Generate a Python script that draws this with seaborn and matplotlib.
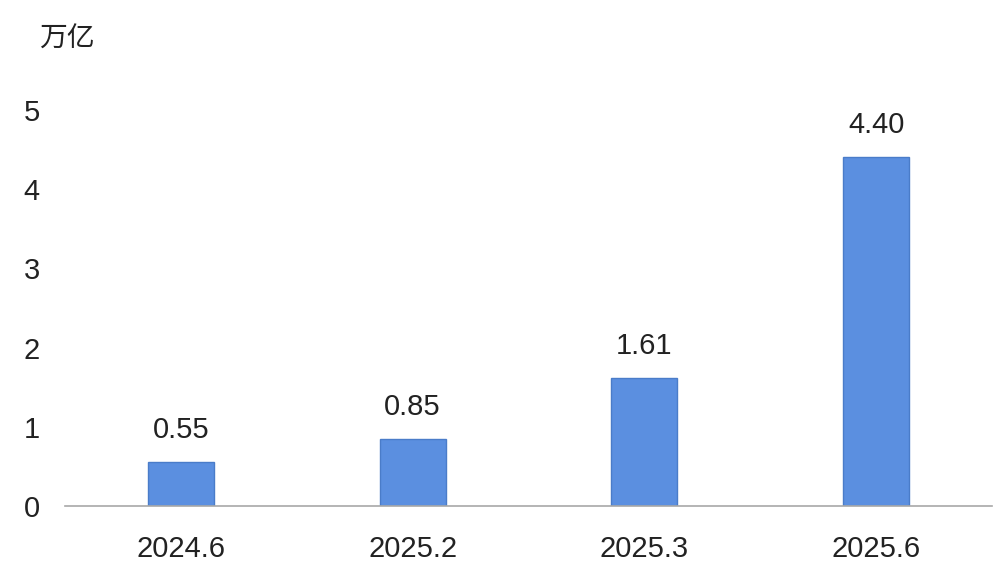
import matplotlib
matplotlib.use("Agg")
import matplotlib.pyplot as plt
import pandas as pd
import seaborn as sns

# values
periods = ["2024.6", "2025.2", "2025.3", "2025.6"]
amounts = [0.55, 0.85, 1.61, 4.40]
value_labels = ["0.55", "0.85", "1.61", "4.40"]
y_ticks = [0, 1, 2, 3, 4, 5]
unit_label = "万亿"


def main():
    sns.set_style("white")
    plt.rcParams["font.family"] = ["Liberation Sans", "Noto Sans CJK SC", "DejaVu Sans"]

    df = pd.DataFrame({"period": periods, "amount": amounts})

    fig = plt.figure(figsize=(9.98, 5.66), dpi=100)
    ax = fig.add_axes([0.0651, 0.106, 0.9289, 0.784])

    sns.barplot(data=df, x="period", y="amount", color="#5B8FE0", saturation=1,
                width=0.285, edgecolor="#4A7CC9", linewidth=1, ax=ax)

    for i, (v, lab) in enumerate(zip(amounts, value_labels)):
        ax.annotate(lab, (i, v), xytext=(0, 13), textcoords="offset points",
                    ha="center", va="bottom", fontsize=21, color="#222222")

    ax.set_xlim(-0.5, 3.5)
    ax.set_ylim(0, 5.6)
    ax.set_yticks(y_ticks)
    ax.set_xlabel("")
    ax.set_ylabel("")

    for side in ["top", "right", "left"]:
        ax.spines[side].set_visible(False)
    ax.spines["bottom"].set_color("#A8A8A8")
    ax.spines["bottom"].set_linewidth(1.2)

    ax.tick_params(axis="y", length=0, pad=24, labelsize=21, labelcolor="#222222")
    ax.tick_params(axis="x", length=0, pad=21, labelsize=21, labelcolor="#222222")
    ax.set_xticks([-0.5, 0.5, 1.5, 2.5, 3.5], minor=True)
    ax.tick_params(axis="x", which="minor", direction="in", length=4, color="#C0C0C0")
    for t in ax.get_yticklabels():
        t.set_horizontalalignment("center")

    fig.text(0.067, 0.932, unit_label, ha="center", va="center", fontsize=20,
             color="#222222", family=["Noto Sans CJK SC", "DejaVu Sans"])

    fig.savefig("out.png", dpi=100, facecolor="white")


if __name__ == "__main__":
    main()
